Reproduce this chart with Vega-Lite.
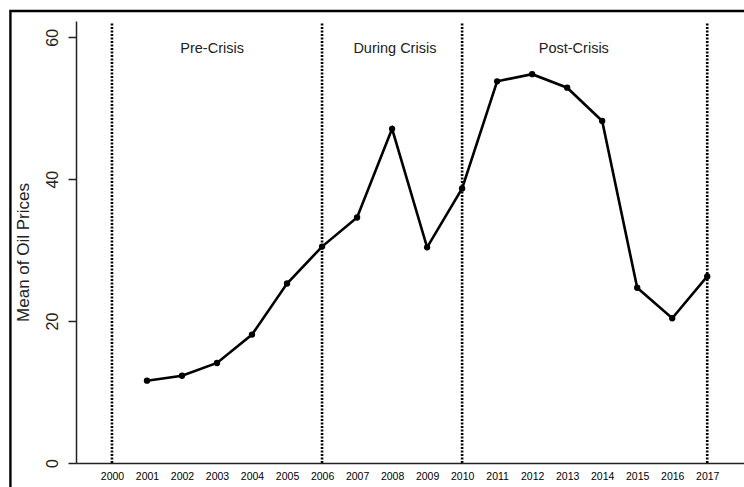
{
  "$schema": "https://vega.github.io/schema/vega-lite/v6.json",
  "autosize": {"type": "none"},
  "width": 668,
  "height": 442,
  "padding": {"left": 76, "top": 21, "right": 0, "bottom": 24},
  "background": "white",
  "config": {
    "view": {"stroke": null},
    "font": "Liberation Sans",
    "axisX": {
      "grid": false,
      "ticks": false,
      "tickSize": 0,
      "domain": true,
      "domainColor": "#222",
      "domainWidth": 1.5,
      "labelFontSize": 10.5,
      "labelColor": "#000",
      "labelPadding": 8,
      "labelFlush": false,
      "labelOverlap": false,
      "format": "d"
    },
    "axisY": {
      "grid": false,
      "domainColor": "#222",
      "domainWidth": 1.5,
      "tickColor": "#222",
      "tickWidth": 1.5,
      "tickSize": 8,
      "labelAngle": -90,
      "labelFontSize": 16,
      "labelColor": "#222",
      "labelPadding": 8,
      "labelFlush": false,
      "titleFontSize": 17,
      "titleFontWeight": "normal",
      "titleColor": "#222",
      "titleAngle": -90,
      "titleX": -53,
      "titleY": 231,
      "titleAlign": "center",
      "titleBaseline": "middle"
    }
  },
  "datasets": {
    "prices": [
      {"year": 2001, "price": 11.6},
      {"year": 2002, "price": 12.3},
      {"year": 2003, "price": 14.1},
      {"year": 2004, "price": 18.1},
      {"year": 2005, "price": 25.3},
      {"year": 2006, "price": 30.5},
      {"year": 2007, "price": 34.6},
      {"year": 2008, "price": 47.1},
      {"year": 2009, "price": 30.4},
      {"year": 2010, "price": 38.7},
      {"year": 2011, "price": 53.8},
      {"year": 2012, "price": 54.8},
      {"year": 2013, "price": 52.9},
      {"year": 2014, "price": 48.2},
      {"year": 2015, "price": 24.7},
      {"year": 2016, "price": 20.4},
      {"year": 2017, "price": 26.3}
    ],
    "breaks": [
      {"year": 2000},
      {"year": 2006},
      {"year": 2010},
      {"year": 2017}
    ],
    "periods": [
      {"year": 2002.86, "level": 58.3, "label": "Pre-Crisis"},
      {"year": 2008.08, "level": 58.3, "label": "During Crisis"},
      {"year": 2013.19, "level": 58.3, "label": "Post-Crisis"}
    ]
  },
  "layer": [
    {
      "data": {"name": "prices"},
      "mark": {"type": "line", "color": "black", "strokeWidth": 2.6, "point": {"filled": true, "color": "black", "size": 40, "opacity": 1}},
      "encoding": {
        "x": {
          "field": "year", "type": "quantitative",
          "scale": {"domain": [1998.973, 2018.05], "nice": false, "zero": false},
          "axis": {"title": null, "values": [2000, 2001, 2002, 2003, 2004, 2005, 2006, 2007, 2008, 2009, 2010, 2011, 2012, 2013, 2014, 2015, 2016, 2017]}
        },
        "y": {
          "field": "price", "type": "quantitative",
          "scale": {"domain": [0, 62.3], "nice": false},
          "axis": {"title": "Mean of Oil Prices", "values": [0, 20, 40, 60]}
        }
      }
    },
    {
      "data": {"name": "breaks"},
      "mark": {"type": "rule", "color": "black", "strokeWidth": 2.6, "strokeDash": [2, 1.5]},
      "encoding": {
        "x": {"field": "year", "type": "quantitative", "axis": {"title": null, "values": [2000, 2001, 2002, 2003, 2004, 2005, 2006, 2007, 2008, 2009, 2010, 2011, 2012, 2013, 2014, 2015, 2016, 2017]}},
        "y": {"datum": 0, "type": "quantitative", "axis": {"title": "Mean of Oil Prices", "values": [0, 20, 40, 60]}},
        "y2": {"datum": 62}
      }
    },
    {
      "data": {"name": "periods"},
      "mark": {"type": "text", "fontSize": 14.5, "color": "#222", "align": "center", "baseline": "middle"},
      "encoding": {
        "x": {"field": "year", "type": "quantitative", "axis": {"title": null, "values": [2000, 2001, 2002, 2003, 2004, 2005, 2006, 2007, 2008, 2009, 2010, 2011, 2012, 2013, 2014, 2015, 2016, 2017]}},
        "y": {"field": "level", "type": "quantitative", "axis": {"title": "Mean of Oil Prices", "values": [0, 20, 40, 60]}},
        "text": {"field": "label"}
      }
    },
    {
      "data": {"values": [{}]},
      "mark": {"type": "rect", "filled": false, "stroke": "black", "strokeWidth": 2.4, "clip": false},
      "encoding": {
        "x": {"datum": 1997.1, "type": "quantitative", "axis": {"title": null, "values": [2000, 2001, 2002, 2003, 2004, 2005, 2006, 2007, 2008, 2009, 2010, 2011, 2012, 2013, 2014, 2015, 2016, 2017]}},
        "x2": {"datum": 2019.5},
        "y": {"datum": 63.7, "type": "quantitative", "axis": {"title": "Mean of Oil Prices", "values": [0, 20, 40, 60]}},
        "y2": {"datum": -6}
      }
    }
  ]
}
